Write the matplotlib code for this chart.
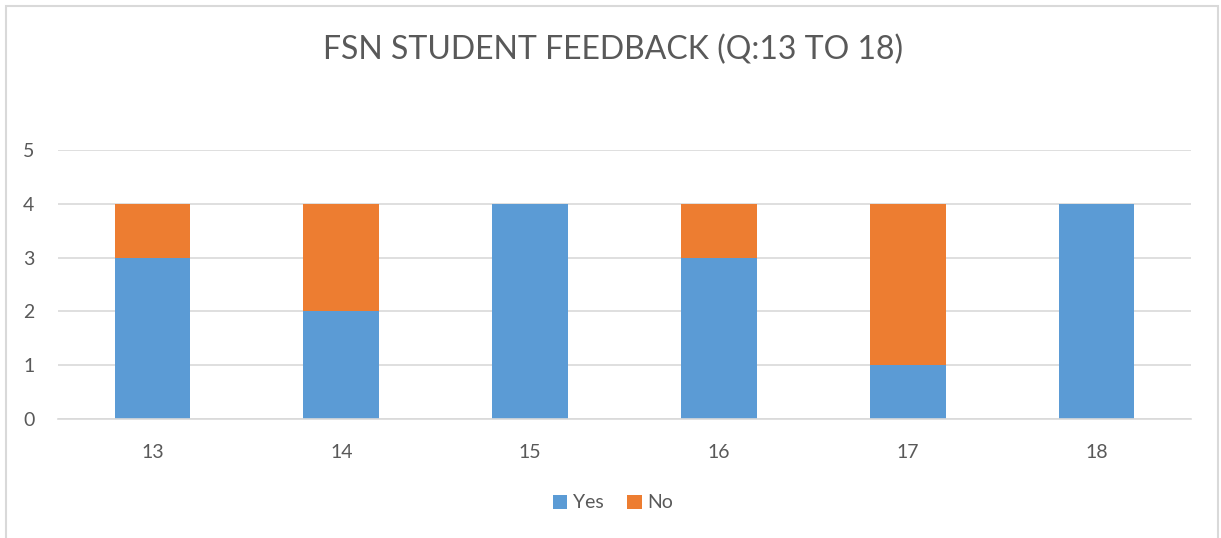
import matplotlib
matplotlib.use("Agg")
import matplotlib.pyplot as plt
from matplotlib.patches import Rectangle
import numpy as np

questions = ["13", "14", "15", "16", "17", "18"]
yes = [3, 2, 4, 3, 1, 4]
no = [1, 2, 0, 1, 3, 0]

blue = "#5B9BD5"
orange = "#ED7D31"
txt = "#595959"
grid = "#D9D9D9"

plt.rcParams['font.family'] = ['Lato', 'DejaVu Sans']

fig = plt.figure(figsize=(12.21, 5.38), dpi=100)
ax = fig.add_axes([58/1221, 1 - 419/538, (1191 - 58)/1221, (419 - 150)/538])

x = np.arange(len(questions))
ax.bar(x, yes, width=0.4, color=blue, label="Yes", zorder=2)
ax.bar(x, no, width=0.4, bottom=yes, color=orange, label="No", zorder=2)

ax.set_xlim(-0.5, len(questions) - 0.5)
ax.set_ylim(0, 5)
ax.set_yticks(range(6))
ax.set_xticks(x)
ax.set_xticklabels(questions)
ax.yaxis.grid(True, color=grid, linewidth=1.2, zorder=0)
ax.tick_params(length=0, labelsize=14, colors=txt)
ax.tick_params(axis='x', pad=18)
ax.tick_params(axis='y', pad=17)
for s in ["top", "right", "left"]:
    ax.spines[s].set_visible(False)
ax.spines["bottom"].set_color(grid)
ax.spines["bottom"].set_linewidth(1.2)

fig.text(613/1221, 1 - 50/538, "FSN STUDENT FEEDBACK (Q:13 TO 18)", ha="center", va="center",
         fontsize=23, color=txt)

leg = fig.legend(loc="center", bbox_to_anchor=(613/1221, 1 - 503/538), ncol=2, frameon=False,
                 fontsize=14, handlelength=0.75, handleheight=0.75, handletextpad=0.3, columnspacing=1.2)
for t in leg.get_texts():
    t.set_color(txt)

fig.patches.append(Rectangle((6/1221, -0.1), (1218 - 6)/1221, 1.1 - 6/538, transform=fig.transFigure,
                             fill=False, edgecolor=grid, linewidth=1.5))

fig.savefig("out.png", dpi=100)
